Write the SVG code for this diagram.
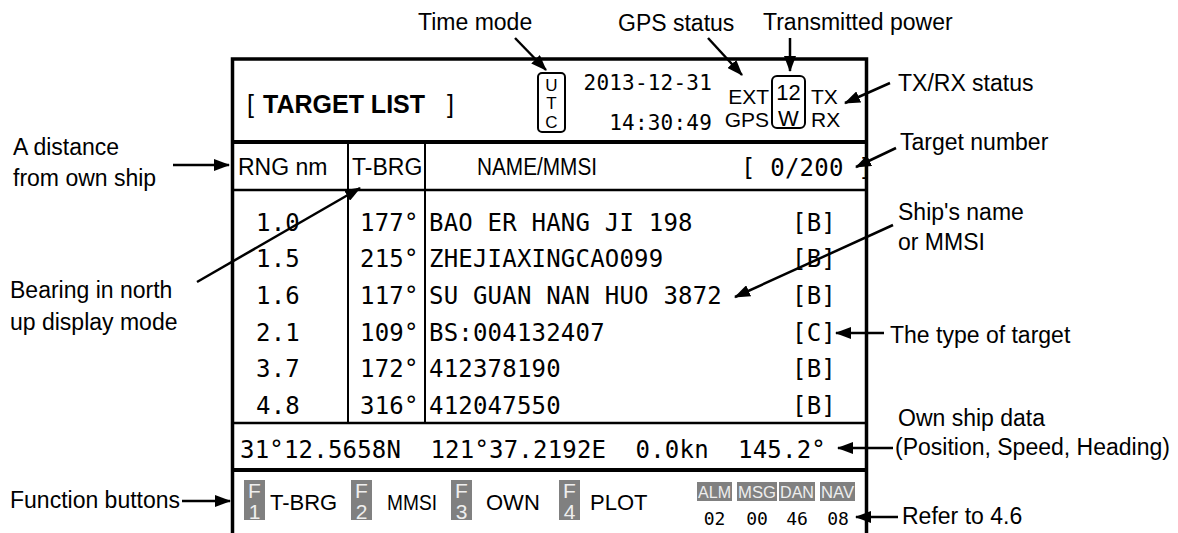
<svg xmlns="http://www.w3.org/2000/svg" width="1178" height="533" viewBox="0 0 1178 533">
  <defs>
    <marker id="ah" viewBox="0 0 16 12" refX="15" refY="6" markerWidth="16" markerHeight="12" markerUnits="userSpaceOnUse" orient="auto">
      <path d="M0,0 L16,6 L0,12 z" fill="#000"/>
    </marker>
  </defs>
  <style>
    .lbl{font-family:"Liberation Sans",Arial,sans-serif;font-size:23px;fill:#000}
    .sans{font-family:"Liberation Sans",Arial,sans-serif;fill:#000}
    .mono{font-family:"DejaVu Sans Mono","Liberation Mono",monospace;letter-spacing:0.2px;fill:#000}
    .big{font-size:24px}
    .small{font-size:21px}
    .frame{stroke:#000;fill:none}
    .conn line{stroke:#000;stroke-width:2.5;marker-end:url(#ah)}
    .key{fill:#808080}
    .keytxt{font-family:"Liberation Sans",Arial,sans-serif;fill:#eeeeee;text-anchor:middle}
    .cnt{font-family:"DejaVu Sans Mono",monospace;font-size:18px;fill:#000;text-anchor:middle}
  </style>
  <rect width="1178" height="533" fill="#fff"/>

  <!-- display frame and grid -->
  <g id="screen" class="frame">
    <path d="M232.5,533 V59 H866.5 V533" stroke-width="3.5"/>
    <line x1="232" y1="142" x2="867" y2="142" stroke-width="4"/>
    <line x1="232" y1="190" x2="867" y2="190" stroke-width="2.5"/>
    <line x1="348" y1="142" x2="348" y2="423" stroke-width="2"/>
    <line x1="425" y1="142" x2="425" y2="423" stroke-width="2"/>
    <line x1="232" y1="423" x2="867" y2="423" stroke-width="2.5"/>
    <line x1="232" y1="470" x2="867" y2="470" stroke-width="4"/>
  </g>

  <!-- title bar -->
  <g id="title">
    <text class="sans" x="247" y="113" font-size="25">[</text>
    <text class="sans" x="263" y="113" font-size="25" font-weight="bold">TARGET LIST</text>
    <text class="sans" x="447" y="113" font-size="25">]</text>
  </g>
  <g id="time-mode">
    <rect x="538" y="73" width="27" height="59" rx="4" fill="none" stroke="#000" stroke-width="2"/>
    <text class="sans" font-size="17" text-anchor="middle" x="551.5" y="91">U</text>
    <text class="sans" font-size="17" text-anchor="middle" x="551.5" y="109">T</text>
    <text class="sans" font-size="17" text-anchor="middle" x="551.5" y="128">C</text>
  </g>
  <g id="clock" class="mono small">
    <text text-anchor="end" x="712" y="90">2013-12-31</text>
    <text text-anchor="end" x="712" y="130">14:30:49</text>
  </g>
  <g id="gps-status">
    <text class="sans" font-size="21" text-anchor="end" x="769" y="104">EXT</text>
    <text class="sans" font-size="21" text-anchor="end" x="769" y="127">GPS</text>
  </g>
  <g id="tx-power">
    <rect x="772" y="76" width="33" height="52" rx="5" fill="none" stroke="#000" stroke-width="2"/>
    <text class="sans" font-size="22" text-anchor="middle" x="788.5" y="100">12</text>
    <text class="sans" font-size="22" text-anchor="middle" x="788.5" y="126">W</text>
  </g>
  <g id="txrx">
    <text class="sans" font-size="21" x="811" y="104">TX</text>
    <text class="sans" font-size="21" x="811" y="127">RX</text>
  </g>

  <!-- column headings -->
  <g id="heading">
    <text class="sans" font-size="23" x="238" y="175">RNG nm</text>
    <text class="sans" font-size="23" x="352" y="175">T-BRG</text>
    <text class="sans" font-size="23" x="477" y="175" textLength="120" lengthAdjust="spacingAndGlyphs">NAME/MMSI</text>
    <text class="mono big" x="741" y="176" xml:space="preserve">[ 0/200 ]</text>
  </g>

  <!-- target rows -->
  <g id="targets" class="mono big">
    <text x="256" y="231">1.0</text><text x="360" y="231">177°</text><text x="429" y="231">BAO ER HANG JI 198</text><text x="792" y="231">[B]</text>
    <text x="256" y="267">1.5</text><text x="360" y="267">215°</text><text x="429" y="267">ZHEJIAXINGCAO099</text><text x="792" y="267">[B]</text>
    <text x="256" y="304">1.6</text><text x="360" y="304">117°</text><text x="429" y="304">SU GUAN NAN HUO 3872</text><text x="792" y="304">[B]</text>
    <text x="256" y="341">2.1</text><text x="360" y="341">109°</text><text x="429" y="341">BS:004132407</text><text x="792" y="341">[C]</text>
    <text x="256" y="377">3.7</text><text x="360" y="377">172°</text><text x="429" y="377">412378190</text><text x="792" y="377">[B]</text>
    <text x="256" y="414">4.8</text><text x="360" y="414">316°</text><text x="429" y="414">412047550</text><text x="792" y="414">[B]</text>
  </g>

  <!-- own ship line -->
  <g id="own-ship">
    <text class="mono big" x="240" y="458" xml:space="preserve">31°12.5658N  121°37.2192E  0.0kn  145.2°</text>
  </g>

  <!-- function keys -->
  <g id="function-keys">
    <rect class="key" x="244" y="480" width="21" height="40"/>
    <text class="keytxt" font-size="21" x="254.5" y="498">F</text><text class="keytxt" font-size="21" x="254.5" y="519">1</text>
    <text class="sans" font-size="22" x="270" y="510">T-BRG</text>
    <rect class="key" x="351" y="480" width="21" height="40"/>
    <text class="keytxt" font-size="21" x="361.5" y="498">F</text><text class="keytxt" font-size="21" x="361.5" y="519">2</text>
    <text class="sans" font-size="22" x="387" y="510" textLength="50" lengthAdjust="spacingAndGlyphs">MMSI</text>
    <rect class="key" x="451" y="480" width="21" height="40"/>
    <text class="keytxt" font-size="21" x="461.5" y="498">F</text><text class="keytxt" font-size="21" x="461.5" y="519">3</text>
    <text class="sans" font-size="22" x="486" y="510">OWN</text>
    <rect class="key" x="559" y="480" width="21" height="40"/>
    <text class="keytxt" font-size="21" x="569.5" y="498">F</text><text class="keytxt" font-size="21" x="569.5" y="519">4</text>
    <text class="sans" font-size="22" x="590" y="510">PLOT</text>
  </g>

  <!-- message counters -->
  <g id="counters">
    <rect class="key" x="697" y="482" width="35" height="19"/>
    <rect class="key" x="737" y="482" width="40" height="19"/>
    <rect class="key" x="779" y="482" width="36" height="19"/>
    <rect class="key" x="820" y="482" width="35" height="19"/>
    <text class="keytxt" font-size="16" x="714.5" y="498" textLength="33" lengthAdjust="spacingAndGlyphs">ALM</text>
    <text class="keytxt" font-size="16" x="757" y="498" textLength="38" lengthAdjust="spacingAndGlyphs">MSG</text>
    <text class="keytxt" font-size="16" x="797" y="498" textLength="34" lengthAdjust="spacingAndGlyphs">DAN</text>
    <text class="keytxt" font-size="16" x="837.5" y="498" textLength="33" lengthAdjust="spacingAndGlyphs">NAV</text>
    <text class="cnt" x="714.5" y="525">02</text>
    <text class="cnt" x="757" y="525">00</text>
    <text class="cnt" x="797" y="525">46</text>
    <text class="cnt" x="838" y="525">08</text>
  </g>

  <!-- callout labels -->
  <g id="lbl-time-mode"><text class="lbl" x="418" y="30">Time mode</text></g>
  <g id="lbl-gps-status"><text class="lbl" x="618" y="31">GPS status</text></g>
  <g id="lbl-tx-power"><text class="lbl" x="763" y="30">Transmitted power</text></g>
  <g id="lbl-txrx"><text class="lbl" x="898" y="91">TX/RX status</text></g>
  <g id="lbl-distance"><text class="lbl" x="13" y="155">A distance</text><text class="lbl" x="13" y="186">from own ship</text></g>
  <g id="lbl-target-number"><text class="lbl" x="900" y="150">Target number</text></g>
  <g id="lbl-name"><text class="lbl" x="898" y="220">Ship's name</text><text class="lbl" x="898" y="250">or MMSI</text></g>
  <g id="lbl-bearing"><text class="lbl" x="10" y="298">Bearing in north</text><text class="lbl" x="10" y="330">up display mode</text></g>
  <g id="lbl-type"><text class="lbl" x="890" y="343">The type of target</text></g>
  <g id="lbl-own-ship"><text class="lbl" x="898" y="426">Own ship data</text><text class="lbl" x="895" y="455">(Position, Speed, Heading)</text></g>
  <g id="lbl-function"><text class="lbl" x="10" y="508">Function buttons</text></g>
  <g id="lbl-refer"><text class="lbl" x="902" y="524">Refer to 4.6</text></g>

  <!-- connectors -->
  <g id="connectors" class="conn">
    <line x1="515" y1="38" x2="546" y2="70"/>
    <line x1="708" y1="38" x2="742" y2="75"/>
    <line x1="790" y1="38" x2="790" y2="71"/>
    <line x1="890" y1="83" x2="845" y2="103"/>
    <line x1="173" y1="165" x2="229" y2="165"/>
    <line x1="896" y1="148" x2="856" y2="167"/>
    <line x1="197" y1="282" x2="360" y2="188"/>
    <line x1="893" y1="225" x2="735" y2="297"/>
    <line x1="884" y1="333" x2="836" y2="333"/>
    <line x1="893" y1="448" x2="838" y2="448"/>
    <line x1="182" y1="501" x2="230" y2="501"/>
    <line x1="898" y1="517" x2="856" y2="517"/>
  </g>
</svg>
